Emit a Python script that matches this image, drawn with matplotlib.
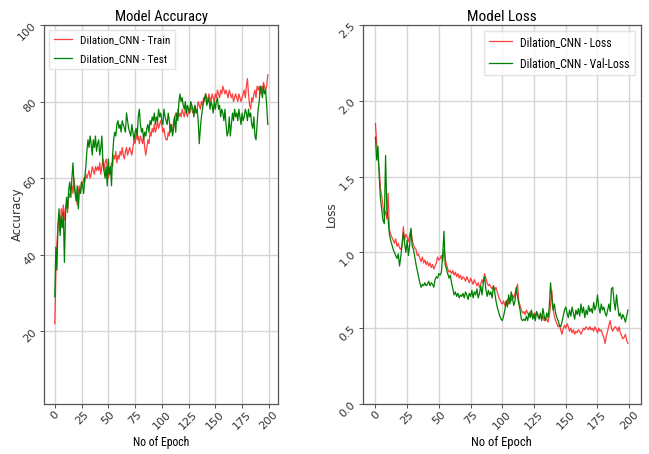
import numpy as np
import matplotlib
matplotlib.use("Agg")
import matplotlib.pyplot as plt
from matplotlib import font_manager

# accuracy (%) per epoch
acc_train = [
    22, 35, 43, 47, 50, 46, 52, 50, 53, 49,
    52, 54, 51, 56, 55, 57, 58, 56, 60, 57,
    55, 53, 57, 58, 56, 59, 58, 60, 59, 61,
    60, 61, 62, 60, 61, 63, 62, 61, 63, 62,
    63, 62, 64, 61, 63, 65, 62, 64, 65, 63,
    60, 62, 61, 64, 63, 66, 65, 67, 64, 66,
    65, 67, 66, 68, 66, 65, 67, 68, 66, 67,
    68, 67, 66, 68, 70, 69, 72, 70, 71, 69,
    71, 70, 69, 71, 68, 66, 68, 70, 69, 72,
    71, 73, 72, 74, 72, 73, 75, 73, 74, 75,
    74, 72, 73, 71, 70, 70, 72, 71, 74, 73,
    72, 75, 76, 77, 75, 78, 76, 77, 76, 78,
    77, 76, 78, 77, 76, 78, 77, 79, 78, 77,
    78, 79, 77, 78, 80, 79, 78, 80, 79, 81,
    80, 82, 81, 80, 82, 81, 80, 82, 81, 80,
    82, 81, 83, 82, 81, 83, 82, 84, 83, 82,
    83, 82, 81, 83, 82, 81, 82, 80, 81, 82,
    81, 80, 82, 81, 80, 81, 82, 83, 81, 84,
    86, 82, 79, 78, 81, 80, 82, 83, 81, 84,
    83, 84, 82, 84, 83, 85, 84, 83, 84, 87,
]
acc_test = [
    29, 42, 36, 48, 52, 45, 50, 47, 51, 38,
    50, 55, 52, 57, 59, 55, 60, 64, 58, 56,
    54, 58, 52, 57, 56, 59, 58, 56, 60, 63,
    67, 70, 68, 71, 69, 66, 70, 68, 71, 67,
    69, 70, 66, 68, 71, 64, 62, 60, 63, 58,
    65, 61, 63, 58, 66, 70, 72, 71, 74, 75,
    73, 74, 72, 75, 74, 73, 72, 77, 75, 73,
    72, 71, 74, 72, 70, 72, 73, 71, 76, 78,
    74, 72, 73, 70, 72, 71, 73, 74, 72, 75,
    74, 76, 75, 77, 74, 76, 75, 78, 76, 77,
    75, 74, 78, 76, 75, 74, 77, 75, 72, 74,
    71, 73, 76, 72, 77, 75, 80, 82, 80, 81,
    79, 78, 80, 77, 79, 78, 77, 80, 79, 78,
    76, 79, 77, 78, 75, 69, 73, 76, 78, 80,
    81, 82, 79, 80, 81, 78, 80, 79, 77, 80,
    78, 80, 81, 78, 79, 76, 78, 77, 75, 78,
    74, 71, 72, 76, 71, 74, 77, 75, 78, 76,
    77, 75, 78, 76, 74, 77, 75, 76, 78, 77,
    75, 78, 76, 77, 74, 73, 76, 71, 70, 74,
    78, 80, 84, 83, 81, 84, 82, 83, 79, 74,
]

# loss per epoch
loss_train = [
    1.85, 1.72, 1.62, 1.55, 1.42, 1.37, 1.30, 1.24, 1.27, 1.22,
    1.39, 1.15, 1.12, 1.10, 1.08, 1.06, 1.09, 1.04, 1.06, 1.03,
    1.02, 1.05, 1.17, 1.08, 1.12, 1.10, 1.07, 1.12, 1.15, 1.08,
    1.05, 1.03, 1.02, 0.98, 0.99, 0.96, 0.94, 0.97, 0.93, 0.95,
    0.92, 0.94, 0.91, 0.93, 0.90, 0.92, 0.89, 0.91, 0.93, 0.97,
    0.95, 0.96, 0.98, 0.94, 1.02, 0.96, 0.92, 0.89, 0.87, 0.88,
    0.86, 0.88, 0.85, 0.87, 0.84, 0.86, 0.83, 0.85, 0.82, 0.84,
    0.83, 0.81, 0.84, 0.82, 0.80, 0.83, 0.81, 0.79, 0.82, 0.80,
    0.78, 0.80, 0.77, 0.79, 0.82, 0.80, 0.86, 0.83, 0.80, 0.78,
    0.79, 0.77, 0.76, 0.78, 0.75, 0.77, 0.74, 0.71, 0.69, 0.67,
    0.66, 0.68, 0.65, 0.67, 0.69, 0.66, 0.70, 0.68, 0.72, 0.70,
    0.73, 0.76, 0.79, 0.68, 0.65, 0.62, 0.60, 0.61, 0.59, 0.62,
    0.60, 0.58, 0.61, 0.59, 0.57, 0.60, 0.58, 0.61, 0.59, 0.57,
    0.59, 0.56, 0.58, 0.55, 0.57, 0.56, 0.54, 0.58, 0.65, 0.75,
    0.63, 0.58, 0.55, 0.53, 0.51, 0.52, 0.49, 0.46, 0.50, 0.52,
    0.50, 0.53, 0.51, 0.48, 0.50, 0.47, 0.49, 0.46, 0.48, 0.47,
    0.49, 0.48, 0.46, 0.48, 0.50, 0.49, 0.51, 0.50, 0.49, 0.51,
    0.49, 0.50, 0.48, 0.51, 0.49, 0.47, 0.50, 0.48, 0.49, 0.46,
    0.44, 0.40, 0.45, 0.48, 0.52, 0.55, 0.50, 0.48, 0.50, 0.51,
    0.50, 0.48, 0.51, 0.47, 0.45, 0.43, 0.44, 0.46, 0.42, 0.40,
]
loss_val = [
    1.76, 1.61, 1.70, 1.50, 1.35, 1.28, 1.21, 1.19, 1.64, 1.28,
    1.22, 1.12, 1.08, 1.05, 1.02, 1.00, 0.98, 0.96, 0.99, 0.91,
    0.97, 1.05, 1.13, 1.06, 1.00, 1.08, 0.98, 1.05, 1.16, 1.04,
    1.02, 0.97, 0.92, 0.88, 0.84, 0.80, 0.77, 0.79, 0.78, 0.80,
    0.78, 0.79, 0.81, 0.78, 0.80, 0.79, 0.77, 0.82, 0.84, 0.83,
    0.86, 0.85, 0.87, 0.98, 1.14, 0.92, 0.89, 0.86, 0.83, 0.85,
    0.80, 0.76, 0.72, 0.74, 0.71, 0.73, 0.70, 0.72, 0.71, 0.73,
    0.70, 0.74, 0.72, 0.69, 0.73, 0.71, 0.75, 0.70, 0.74, 0.72,
    0.76, 0.70, 0.73, 0.78, 0.72, 0.80, 0.84, 0.76, 0.71, 0.75,
    0.72, 0.74, 0.70, 0.78, 0.74, 0.68, 0.64, 0.61, 0.58, 0.56,
    0.55, 0.58, 0.62, 0.68, 0.64, 0.72, 0.66, 0.74, 0.70, 0.65,
    0.68, 0.77, 0.71, 0.66, 0.62, 0.56, 0.55, 0.56, 0.55, 0.58,
    0.55, 0.60, 0.57, 0.62, 0.56, 0.59, 0.55, 0.61, 0.58, 0.56,
    0.60, 0.55, 0.63, 0.58, 0.55, 0.60, 0.57, 0.64, 0.80, 0.70,
    0.62, 0.66, 0.60, 0.57, 0.55, 0.52, 0.51, 0.54, 0.58, 0.62,
    0.64, 0.60, 0.57, 0.62, 0.58, 0.64, 0.60, 0.56, 0.62, 0.59,
    0.63, 0.58, 0.66, 0.60, 0.64, 0.57, 0.62, 0.59, 0.65, 0.61,
    0.63, 0.60, 0.67, 0.62, 0.65, 0.72, 0.64, 0.60, 0.66, 0.62,
    0.64, 0.60, 0.58, 0.62, 0.66, 0.61, 0.76, 0.77, 0.68, 0.62,
    0.72, 0.64, 0.58, 0.60, 0.56, 0.59, 0.57, 0.54, 0.58, 0.62,
]

epochs = np.arange(len(acc_train))
x_ticks = [0, 25, 50, 75, 100, 125, 150, 175, 200]

plt.rcParams["font.family"] = ["DejaVu Sans"]

# titles / legends in the reference look condensed
installed = {f.name for f in font_manager.fontManager.ttflist}
narrow = "DejaVu Sans"
for cand in ["Liberation Sans Narrow", "DejaVu Sans Condensed", "Roboto Condensed"]:
    if cand in installed:
        narrow = cand
        break

fig = plt.figure(figsize=(6.49, 4.54), dpi=100)
ax1 = fig.add_axes([0.068, 0.110, 0.361, 0.835])
ax2 = fig.add_axes([0.559, 0.110, 0.428, 0.835])


def style_axis(ax):
    ax.grid(True, color="#d6d6d6", linewidth=1.0)
    ax.set_axisbelow(True)
    for s in ax.spines.values():
        s.set_color("#555555")
        s.set_linewidth(0.9)
    ax.tick_params(labelsize=8, colors="#333333", length=3, width=0.6, pad=1)
    ax.set_xticks(x_ticks)
    for lbl in ax.get_xticklabels() + ax.get_yticklabels():
        lbl.set_rotation(45)


ax1.plot(epochs, acc_train, color="red", linewidth=0.9, alpha=0.75,
         label="Dilation_CNN - Train")
ax1.plot(epochs, acc_test, color="green", linewidth=0.9,
         label="Dilation_CNN - Test")
ax1.set_ylim(1, 100)
ax1.set_yticks([20, 40, 60, 80, 100])
ax1.set_title("Model Accuracy", fontsize=10.5, family=narrow, pad=3)
ax1.set_ylabel("Accuracy", fontsize=8.5, color="#333333")
ax1.yaxis.set_label_coords(-0.085, 0.5)
ax1.set_xlabel("No of Epoch", fontsize=8.5, family=narrow, labelpad=3)
style_axis(ax1)
ax1.legend(loc="upper left", prop={"family": narrow, "size": 8.2},
           frameon=True, fancybox=False, edgecolor="#dddddd",
           handlelength=1.6, handletextpad=0.7, labelspacing=0.85,
           borderaxespad=0.45)

ax2.plot(epochs, loss_train, color="red", linewidth=0.9, alpha=0.75,
         label="Dilation_CNN - Loss")
ax2.plot(epochs, loss_val, color="green", linewidth=0.9,
         label="Dilation_CNN - Val-Loss")
ax2.set_ylim(0, 2.5)
ax2.set_yticks([0.0, 0.5, 1.0, 1.5, 2.0, 2.5])
ax2.set_title("Model Loss", fontsize=11, family=narrow, pad=3)
ax2.set_ylabel("Loss", fontsize=8.5, color="#333333")
ax2.yaxis.set_label_coords(-0.089, 0.5)
ax2.set_xlabel("No of Epoch", fontsize=9, family=narrow, labelpad=3)
style_axis(ax2)
ax2.legend(loc="upper right", prop={"family": narrow, "size": 8.5},
           frameon=True, fancybox=False, edgecolor="#dddddd",
           handlelength=2.0, handletextpad=0.7, labelspacing=0.75,
           borderaxespad=0.5)

fig.savefig("out.png", dpi=100)
